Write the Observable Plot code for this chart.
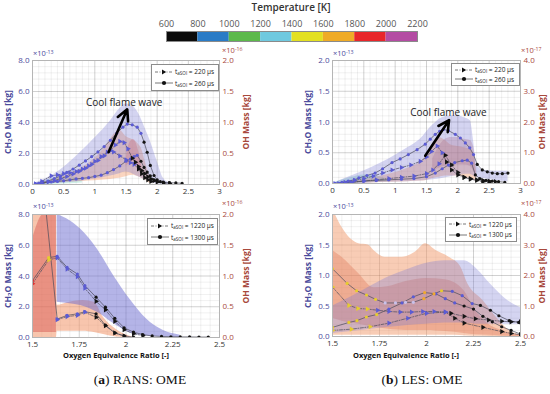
<!DOCTYPE html>
<html><head><meta charset="utf-8">
<script src="https://cdn.jsdelivr.net/npm/d3@7"></script>
<script src="https://cdn.jsdelivr.net/npm/@observablehq/plot@0.6"></script>
<style>
html,body{margin:0;padding:0;background:#fff;}
#root{position:relative;width:550px;height:394px;overflow:hidden;background:#fff;}
sub{font-size:70%;vertical-align:-0.25em;line-height:0}
sup{font-size:70%;vertical-align:0.45em;line-height:0}
</style></head>
<body><div id="root"></div>
<script>
// ---------------- colour bar ----------------
const tempEdges = [800,1000,1200,1400,1600,1800,2000];
const cbTicks = [600,800,1000,1200,1400,1600,1800,2000,2200];
const cbPalette = ["#0b0b0b","#2a7bc6","#5cb94b","#6fc9df","#e3e021","#efab27","#e8262a","#b44ca3"];
const markerPalette = ["#141414","#5b5bd3","#66bb55","#c9c1ea","#e6cc2e","#f0a82e","#e03030","#b050a0"];

// ---------------- tick labels ----------------
const xTicksTop = [0,0.5,1,1.5,2,2.5,3];
const xTicksBottom = [1.5,1.75,2,2.25,2.5];
const yTicksRANS = [0,2,4,6,8];          // CH2O x1e-13
const rTicksRANS = [0,0.5,1,1.5,2];      // OH x1e-16
const yTicksLES = [0,0.5,1,1.5,2];       // CH2O x1e-13
const rTicksLES = [0,1,2,3,4];           // OH x1e-17

// ============ Panel A : RANS, t = 220 / 260 us ============
const A_CH2O_260_x = [0.05,0.15,0.25,0.35,0.45,0.55,0.65,0.75,0.85,0.95,1.05,1.15,1.25,1.35,1.45,1.52,1.6,1.68,1.74,1.79,1.84,1.89,1.95,2.0,2.05,2.1,2.2,2.3,2.4];
const A_CH2O_260_y = [0.02,0.1,0.22,0.38,0.55,0.78,1.0,1.25,1.52,1.8,2.1,2.45,2.85,3.3,3.7,3.9,3.85,3.7,3.3,2.73,2.08,1.23,0.58,0.3,0.18,0.15,0.12,0.1,0.08];
const A_CH2O_260_T = [900,900,900,900,900,900,900,900,900,900,900,900,900,900,900,900,900,900,900,700,700,700,700,700,700,700,700,700,700];
const A_CH2O_220_x = [0.05,0.15,0.25,0.35,0.45,0.55,0.65,0.75,0.85,0.95,1.05,1.15,1.25,1.33,1.4,1.47,1.53,1.6,1.65,1.7,1.75,1.8,1.85,1.9,1.95,2.0,2.1,2.2];
const A_CH2O_220_y = [0.02,0.06,0.15,0.25,0.38,0.52,0.68,0.85,1.05,1.3,1.55,1.85,2.2,2.55,2.78,2.7,2.3,1.7,1.44,1.15,0.9,0.7,0.5,0.35,0.25,0.15,0.1,0.06];
const A_CH2O_220_T = [900,900,900,900,900,900,900,900,900,900,900,900,900,900,900,900,900,700,700,700,700,700,700,700,700,700,700,700];
const A_OH_220_x = [0.05,0.15,0.3,0.4,0.5,0.6,0.7,0.8,0.9,1.0,1.1,1.2,1.25,1.3,1.4,1.5,1.57,1.63,1.7,1.75,1.8,1.85,1.9];
const A_OH_220_y = [0.01,0.05,0.14,0.155,0.175,0.19,0.21,0.25,0.3,0.375,0.45,0.525,0.55,0.525,0.46,0.4,0.35,0.325,0.25,0.175,0.11,0.075,0.05];
const A_OH_220_T = [900,900,900,900,900,900,900,900,900,900,900,900,900,900,900,900,900,900,700,700,700,700,700];
const A_OH_260_x = [0.1,0.3,0.4,0.5,0.6,0.7,0.8,0.9,1.0,1.1,1.2,1.3,1.4,1.5,1.57,1.63,1.68,1.74,1.79,1.84,1.89,1.95,2.0,2.1];
const A_OH_260_y = [0.02,0.04,0.05,0.06,0.075,0.09,0.1,0.11,0.13,0.15,0.19,0.24,0.3,0.375,0.41,0.45,0.47,0.375,0.275,0.2,0.14,0.075,0.05,0.025];
const A_OH_260_T = [900,900,900,900,900,900,900,900,900,900,900,900,900,900,900,900,900,700,700,700,700,700,700,700];
const A_CH2Oband_x = [0,0.25,0.5,0.75,1.0,1.25,1.4,1.5,1.6,1.7,1.8,1.9,2.0,2.1,2.2];
const A_CH2Oband_lo = [0,0.05,0.1,0.2,0.35,0.55,0.7,0.8,0.7,0.5,0.3,0.15,0.05,0.02,0];
const A_CH2Oband_hi = [0.05,0.45,1.1,2.0,3.0,4.1,4.9,5.2,5.1,4.6,3.7,2.7,1.5,0.4,0.1];
const A_OHband_x = [0.2,0.4,0.6,0.8,1.0,1.2,1.3,1.4,1.5,1.6,1.7,1.75,1.8,1.85,1.9];
const A_OHband_lo = [0.0125,0.025,0.04,0.05,0.06,0.075,0.09,0.1,0.125,0.15,0.125,0.1,0.075,0.04,0.0125];
const A_OHband_hi = [0.05,0.1,0.175,0.275,0.425,0.65,0.8,0.875,0.775,0.725,0.65,0.575,0.4,0.225,0.075];
const A_OHband2_x = [1.5,1.55,1.62,1.7,1.75];
const A_OHband2_lo = [0.3,0.325,0.375,0.25,0.2];
const A_OHband2_hi = [0.375,0.65,0.725,0.55,0.3];
const A_coolband_x = [0.05,0.2,0.4,0.6,0.8];
const A_coolband_lo = [0,0,0.02,0.05,0.1];
const A_coolband_hi = [0.05,0.25,0.45,0.5,0.3];

// ============ Panel B : LES, t = 220 / 260 us ============
const B_CH2O_260_x = [0.04,0.15,0.25,0.35,0.42,0.55,0.68,0.8,0.95,1.08,1.21,1.35,1.48,1.56,1.64,1.71,1.77,1.85,1.96,2.04,2.12,2.19,2.25,2.31,2.39,2.47,2.55,2.63,2.71,2.8];
const B_CH2O_260_y = [0.0,0.02,0.04,0.06,0.09,0.13,0.17,0.24,0.34,0.4,0.47,0.55,0.64,0.72,0.8,0.85,0.88,0.86,0.8,0.74,0.66,0.58,0.47,0.31,0.22,0.19,0.17,0.16,0.16,0.17];
const B_CH2O_260_T = [900,900,900,900,900,900,900,900,900,900,900,900,900,900,900,900,900,900,900,900,900,900,900,700,700,700,700,700,700,700];
const B_CH2O_220_x = [0.04,0.2,0.35,0.5,0.65,0.8,0.95,1.1,1.25,1.4,1.5,1.58,1.67,1.75,1.82,1.9,2.0,2.1,2.2,2.3,2.4,2.5,2.6];
const B_CH2O_220_y = [0.0,0.02,0.05,0.08,0.12,0.17,0.22,0.26,0.3,0.36,0.43,0.52,0.61,0.5,0.35,0.22,0.14,0.1,0.08,0.06,0.05,0.04,0.03];
const B_CH2O_220_T = [900,900,900,900,900,900,900,900,900,900,900,900,900,900,700,700,700,700,700,700,700,700,700];
const B_OH_260_x = [0.1,0.3,0.5,0.7,0.9,1.1,1.3,1.5,1.64,1.75,1.85,1.95,2.07,2.15,2.22,2.28,2.35,2.45,2.55,2.65,2.75];
const B_OH_260_y = [0,0.04,0.08,0.1,0.12,0.14,0.16,0.22,0.34,0.48,0.6,0.68,0.74,0.76,0.66,0.28,0.16,0.1,0.08,0.06,0.04];
const B_OH_260_T = [900,900,900,900,900,900,900,900,900,900,900,900,900,900,900,700,700,700,700,700,700];
const B_OH_220_x = [0.1,0.3,0.5,0.7,0.9,1.1,1.3,1.5,1.6,1.7,1.8,1.9,2.0,2.1,2.2,2.3,2.4,2.5];
const B_OH_220_y = [0,0.04,0.08,0.12,0.16,0.2,0.24,0.32,0.44,0.64,0.92,0.6,0.36,0.2,0.14,0.1,0.06,0.04];
const B_OH_220_T = [900,900,900,900,900,900,900,900,900,900,700,700,700,700,700,700,700,700];
const B_CH2Oband_x = [0,0.3,0.6,0.9,1.2,1.4,1.6,1.75,1.95,2.1,2.2,2.25,2.3,2.4,2.6,2.8];
const B_CH2Oband_lo = [0,0,0.01,0.02,0.03,0.04,0.06,0.08,0.12,0.15,0.15,0.12,0.1,0.08,0.05,0.03];
const B_CH2Oband_hi = [0.0,0.12,0.25,0.4,0.58,0.72,0.95,1.07,1.1,1.07,1.02,0.7,0.3,0.22,0.2,0.2];
const B_OHband_x = [0.3,0.6,0.9,1.2,1.4,1.5,1.6,1.7,1.8,1.9,2.0,2.1,2.2,2.27,2.3];
const B_OHband_lo = [0,0.02,0.04,0.06,0.08,0.1,0.16,0.2,0.24,0.24,0.24,0.2,0.16,0.1,0.04];
const B_OHband_hi = [0.06,0.16,0.3,0.5,0.7,0.9,1.3,1.5,1.4,1.24,1.2,1.16,1.1,0.8,0.2];
const B_OHband2_x = [1.6,1.7,1.8,1.9,2.0,2.1,2.2,2.25,2.3];
const B_OHband2_lo = [0.4,0.5,0.56,0.6,0.6,0.6,0.56,0.4,0.2];
const B_OHband2_hi = [0.8,1.2,1.44,1.5,1.5,1.44,1.4,1.2,0.4];
const B_coolband_x = [0.05,0.3,0.5,0.7,0.9];
const B_coolband_lo = [0,0,0.01,0.02,0.03];
const B_coolband_hi = [0.02,0.1,0.14,0.12,0.06];

// ============ Panel C : RANS, t = 1220 / 1300 us ============
const C_CH2O_1300_x = [1.5,1.587,1.632,1.685,1.74,1.78,1.84,1.89,1.94,1.99,2.04,2.09,2.14,2.19,2.24,2.29,2.34,2.39,2.44];
const C_CH2O_1300_y = [3.7,5.2,5.28,4.56,4.13,3.38,2.62,1.97,1.25,0.63,0.35,0.19,0.1,0.07,0.05,0.04,0.04,0.03,0.03];
const C_CH2O_1300_T = [1900,1500,900,900,900,900,700,700,700,700,700,700,700,700,700,700,700,700,700];
const C_CH2O_1220_x = [1.5,1.587,1.632,1.685,1.74,1.78,1.84,1.89,1.94,1.99,2.04,2.09];
const C_CH2O_1220_y = [3.5,5.05,5.18,4.45,3.95,3.2,2.35,1.8,1.05,0.5,0.25,0.12];
const C_CH2O_1220_T = [1900,1500,900,900,900,900,700,700,700,700,700,700];
const C_OH_1300_x = [1.5,1.632,1.685,1.74,1.78,1.84,1.89,1.94,1.99,2.04];
const C_OH_1300_y = [4.18,0.3,0.36,0.385,0.42,0.385,0.2,0.075,0.025,0.005];
const C_OH_1300_T = [1900,900,900,900,900,700,700,700,700,700];
const C_OH_1220_x = [1.632,1.685,1.74,1.78,1.84,1.89,1.94,1.99];
const C_OH_1220_y = [0.29,0.34,0.36,0.41,0.33,0.19,0.075,0.025];
const C_OH_1220_T = [900,900,900,900,700,700,700,700];
const C_CH2Oband_x = [1.632,1.7,1.757,1.846,1.935,2.02,2.11,2.2,2.29];
const C_CH2Oband_lo = [2.3,2.2,2.08,1.64,0.89,0.3,0.1,0.03,0];
const C_CH2Oband_hi = [8.0,7.6,7.06,5.76,4.0,2.5,1.2,0.45,0.15];
const C_OHband_x = [1.5,1.628,1.632,1.7,1.77,1.83,1.88,1.95,2.04];
const C_OHband_lo = [0,0,0.1,0.1,0.1,0.08,0.05,0.01,0];
const C_OHband_hi = [2.25,2.25,0.525,0.575,0.6,0.575,0.325,0.125,0];
const C_OHband2_x = [1.5,1.56,1.628];
const C_OHband2_lo = [0.08,0.08,0.08];
const C_OHband2_hi = [1.6,2.0,2.0];

// ============ Panel D : LES, t = 1220 / 1300 us ============
const D_CH2O_1300_x = [1.5,1.578,1.628,1.681,1.729,1.78,1.835,1.888,1.93,1.986,2.04,2.08,2.137,2.19,2.243,2.287,2.34,2.385,2.44,2.49];
const D_CH2O_1300_y = [1.11,0.87,0.75,0.68,0.61,0.55,0.55,0.56,0.56,0.62,0.7,0.75,0.74,0.67,0.54,0.51,0.43,0.34,0.26,0.23];
const D_CH2O_1300_T = [1500,1500,1500,1500,1500,1300,1300,1300,1300,1700,1700,1500,900,900,900,700,700,700,700,700];
const D_CH2O_1220_x = [1.5,1.587,1.635,1.685,1.74,1.8,1.86,1.92,1.98,2.04,2.1,2.13,2.2,2.26,2.33,2.4,2.45,2.5];
const D_CH2O_1220_y = [0.81,0.51,0.46,0.45,0.43,0.41,0.4,0.4,0.41,0.41,0.4,0.38,0.33,0.29,0.27,0.25,0.24,0.24];
const D_CH2O_1220_T = [1500,1500,1500,1500,900,900,900,900,900,900,900,700,700,700,700,700,700,700];
const D_OH_1300_x = [1.5,1.587,1.63,1.68,1.735,1.8,1.87,1.93,1.99,2.05,2.1,2.15,2.2,2.25,2.3,2.35,2.4,2.45,2.5];
const D_OH_1300_y = [0.3,0.46,0.52,0.64,0.72,0.9,1.1,1.3,1.44,1.4,1.24,1.1,1.0,0.9,0.66,0.48,0.32,0.2,0.08];
const D_OH_1300_T = [1500,1500,1500,1500,1500,900,900,900,1700,900,900,900,700,700,700,700,700,700,700];
const D_OH_1220_x = [1.5,1.6,1.7,1.8,1.9,2.0,2.1,2.15,2.2,2.3,2.4,2.45,2.5];
const D_OH_1220_y = [0.2,0.24,0.32,0.44,0.6,0.76,0.8,0.6,0.44,0.3,0.16,0.1,0.06];
const D_OH_1220_T = [1500,1500,1500,900,900,900,900,700,700,700,700,700,700];
const D_CH2Oband_x = [1.5,1.6,1.7,1.8,1.9,2.0,2.1,2.2,2.27,2.34,2.42,2.5];
const D_CH2Oband_lo = [0.05,0.08,0.12,0.15,0.18,0.2,0.22,0.22,0.2,0.2,0.2,0.2];
const D_CH2Oband_hi = [0.5,0.65,0.82,0.98,1.1,1.2,1.24,1.24,1.1,0.86,0.62,0.47];
const D_OHband_x = [1.5,1.55,1.64,1.69,1.72,1.78,1.87,1.94,1.995,2.05,2.12,2.18,2.22,2.3,2.37,2.44,2.5];
const D_OHband_lo = [0.04,0.04,0.04,0.04,0.04,0.04,0.04,0.04,0.04,0.04,0.04,0.03,0.02,0.01,0,0,0];
const D_OHband_hi = [4.2,3.58,3.04,3.0,2.82,2.6,2.6,2.76,3.04,2.82,2.6,2.3,1.72,1.18,0.64,0.2,0.04];
const D_OHband2_x = [1.5,1.55,1.64,1.72,1.8,1.89,2.0,2.1,2.2,2.26,2.33,2.4,2.5];
const D_OHband2_lo = [0.6,0.5,0.4,0.3,0.24,0.2,0.2,0.16,0.1,0.06,0.04,0.02,0];
const D_OHband2_hi = [2.82,2.6,2.06,1.6,1.64,1.8,1.9,1.86,1.5,0.86,0.4,0.2,0.06];

// annotations
const coolText = "Cool flame wave";
const A_arrow = [{x1:1.22, y1:2.08, x2:1.52, y2:4.85}];
const A_note = [{x:1.47, y:5.3}];
const B_arrow = [{x1:1.48, y1:0.45, x2:1.86, y2:1.03}];
const B_note = [{x:1.85, y:1.15}];

// ---------------- helpers ----------------
const FONT = "'Open Sans', 'DejaVu Sans', sans-serif";
const root = document.getElementById("root");
const BLUE = "#4b4b9c", RED = "#a8493c";
const pts = (xs, ys, ts, f = 1) => xs.map((x, i) => ({x, y: ys[i] * f, t: ts[i]}));
const band = (xs, lo, hi, f = 1) => xs.map((x, i) => ({x, lo: lo[i] * f, hi: hi[i] * f}));

function put(node, x, y) {
  node.style.position = "absolute"; node.style.left = x + "px"; node.style.top = y + "px";
  root.appendChild(node); return node;
}
function txt(html, x, y, css = "") {
  const d = document.createElement("div");
  d.innerHTML = html;
  d.style.cssText = `position:absolute;left:${x}px;top:${y}px;white-space:nowrap;font-family:${FONT};line-height:1;` + css;
  root.appendChild(d); return d;
}

function panel(c) {
  const f = c.f;
  const marks = [
    Plot.gridX(c.xMinor, {stroke: "#000", strokeOpacity: 0.06}),
    Plot.gridY(c.yMinor, {stroke: "#000", strokeOpacity: 0.06}),
    Plot.gridX(c.xTicks, {stroke: "#000", strokeOpacity: 0.13}),
    Plot.gridY(c.yTicks, {stroke: "#000", strokeOpacity: 0.13}),
  ];
  for (const b of c.bands) {
    marks.push(Plot.areaY(b.data, {x: "x", y1: "lo", y2: "hi", fill: b.fill, fillOpacity: b.op, curve: "monotone-x", clip: true}));
  }
  for (const s of c.series) {
    marks.push(Plot.line(s.data, {x: "x", y: "y", stroke: "#4a4a5a", strokeWidth: 0.7, strokeDasharray: s.dashed ? "3,1.5,1,1.5" : null, clip: true}));
  }
  for (const s of c.series) {
    marks.push(Plot.dot(s.data, s.dashed
      ? {x: "x", y: "y", fill: "t", symbol: "triangle", r: 1.9, rotate: 90, clip: true}
      : {x: "x", y: "y", fill: "t", symbol: "circle", r: 1.6, clip: true}));
  }
  if (c.arrow) {
    marks.push(Plot.arrow(c.arrow, {x1: "x1", y1: "y1", x2: "x2", y2: "y2", stroke: "#000", strokeWidth: 2.6, headLength: 7, headAngle: 55}));
    marks.push(Plot.text(c.note, {x: "x", y: "y", text: () => coolText, fontSize: 10, fill: "#222"}));
  }
  marks.push(
    Plot.frame({stroke: "#b5b5b5"}),
    Plot.axisX({ticks: c.xTicks, tickFormat: d => `${d}`, tickSize: 0, tickPadding: 4, label: null, color: "#333", fontSize: 8}),
    Plot.axisY({ticks: c.yTicks, tickFormat: d3.format(".1f"), tickSize: 0, tickPadding: 3, label: null, color: BLUE, fontSize: 8}),
    Plot.axisY({anchor: "right", ticks: c.rTicks.map(v => v * f), tickFormat: d => d3.format(".1f")(d / f), tickSize: 0, tickPadding: 3, label: null, color: RED, fontSize: 8})
  );
  const svg = Plot.plot({
    width: c.w, height: c.h,
    marginLeft: c.ml, marginRight: c.mr, marginTop: c.mt, marginBottom: c.mb,
    style: {fontFamily: FONT, fontSize: "8px", background: "none", overflow: "visible"},
    x: {domain: c.xDomain},
    y: {domain: [0, c.yMax]},
    color: {type: "threshold", domain: tempEdges, range: markerPalette},
    marks
  });
  put(svg, c.left, c.top);
}

// ---------------- colour bar ----------------
const cbRows = cbTicks.slice(0, -1).map((lo, i) => ({lo, hi: cbTicks[i + 1], mid: lo + 100}));
const cb = Plot.plot({
  width: 271, height: 32, marginLeft: 10, marginRight: 10, marginTop: 19, marginBottom: 3,
  style: {fontFamily: FONT, fontSize: "9px", background: "none", overflow: "visible"},
  x: {domain: [600, 2200]}, y: {domain: [0, 1], axis: null},
  color: {type: "threshold", domain: tempEdges, range: cbPalette},
  marks: [
    Plot.rect(cbRows, {x1: "lo", x2: "hi", y1: 0, y2: 1, fill: "mid"}),
    Plot.frame({stroke: "#8a8a8a"}),
    Plot.axisX({anchor: "top", ticks: cbTicks, tickFormat: d => `${d}`, tickSize: 0, tickPadding: 5, label: null, color: "#555", fontSize: 9})
  ]
});
put(cb, 156, 12);
txt("Temperature [K]", 291, 7, "transform:translate(-50%,-50%);font-size:10px;font-weight:600;color:#333;");

// ---------------- panels ----------------
const topMinorX = d3.range(0, 3.0001, 0.1);
const botMinorX = d3.range(1.5, 2.5001, 0.05);
panel({
  left: 0, top: 45, w: 275, h: 160, ml: 32, mr: 56, mt: 15, mb: 21, f: 4,
  xDomain: [0, 3], xTicks: xTicksTop, xMinor: topMinorX,
  yMax: 8, yTicks: yTicksRANS, yMinor: d3.range(0, 8.001, 0.4), rTicks: rTicksRANS,
  bands: [
    {data: band(A_coolband_x, A_coolband_lo, A_coolband_hi), fill: "#7fd3c0", op: 0.35},
    {data: band(A_OHband_x, A_OHband_lo, A_OHband_hi, 4), fill: "#f39a6a", op: 0.42},
    {data: band(A_OHband2_x, A_OHband2_lo, A_OHband2_hi, 4), fill: "#ee8070", op: 0.45},
    {data: band(A_CH2Oband_x, A_CH2Oband_lo, A_CH2Oband_hi), fill: "#7a7ad4", op: 0.32}
  ],
  series: [
    {data: pts(A_OH_260_x, A_OH_260_y, A_OH_260_T, 4), dashed: false},
    {data: pts(A_OH_220_x, A_OH_220_y, A_OH_220_T, 4), dashed: true},
    {data: pts(A_CH2O_220_x, A_CH2O_220_y, A_CH2O_220_T), dashed: true},
    {data: pts(A_CH2O_260_x, A_CH2O_260_y, A_CH2O_260_T), dashed: false}
  ],
  arrow: A_arrow, note: A_note
});
panel({
  left: 275, top: 45, w: 275, h: 160, ml: 57, mr: 30, mt: 15, mb: 22, f: 0.5,
  xDomain: [0, 3], xTicks: xTicksTop, xMinor: topMinorX,
  yMax: 2, yTicks: yTicksLES, yMinor: d3.range(0, 2.001, 0.1), rTicks: rTicksLES,
  bands: [
    {data: band(B_coolband_x, B_coolband_lo, B_coolband_hi), fill: "#7fd3c0", op: 0.4},
    {data: band(B_OHband_x, B_OHband_lo, B_OHband_hi, 0.5), fill: "#f39a6a", op: 0.42},
    {data: band(B_OHband2_x, B_OHband2_lo, B_OHband2_hi, 0.5), fill: "#b86a70", op: 0.3},
    {data: band(B_CH2Oband_x, B_CH2Oband_lo, B_CH2Oband_hi), fill: "#7a7ad4", op: 0.32}
  ],
  series: [
    {data: pts(B_OH_260_x, B_OH_260_y, B_OH_260_T, 0.5), dashed: false},
    {data: pts(B_OH_220_x, B_OH_220_y, B_OH_220_T, 0.5), dashed: true},
    {data: pts(B_CH2O_220_x, B_CH2O_220_y, B_CH2O_220_T), dashed: true},
    {data: pts(B_CH2O_260_x, B_CH2O_260_y, B_CH2O_260_T), dashed: false}
  ],
  arrow: B_arrow, note: B_note
});
panel({
  left: 0, top: 195, w: 275, h: 165, ml: 32, mr: 56, mt: 19, mb: 23, f: 4,
  xDomain: [1.5, 2.5], xTicks: xTicksBottom, xMinor: botMinorX,
  yMax: 8, yTicks: yTicksRANS, yMinor: d3.range(0, 8.001, 0.4), rTicks: rTicksRANS,
  bands: [
    {data: band(C_OHband_x, C_OHband_lo, C_OHband_hi, 4), fill: "#f3966a", op: 0.55},
    {data: band(C_OHband2_x, C_OHband2_lo, C_OHband2_hi, 4), fill: "#d44a48", op: 0.42},
    {data: band(C_CH2Oband_x, C_CH2Oband_lo, C_CH2Oband_hi), fill: "#6a6ad0", op: 0.5}
  ],
  series: [
    {data: pts(C_OH_1300_x, C_OH_1300_y, C_OH_1300_T, 4), dashed: false},
    {data: pts(C_OH_1220_x, C_OH_1220_y, C_OH_1220_T, 4), dashed: true},
    {data: pts(C_CH2O_1220_x, C_CH2O_1220_y, C_CH2O_1220_T), dashed: true},
    {data: pts(C_CH2O_1300_x, C_CH2O_1300_y, C_CH2O_1300_T), dashed: false}
  ]
});
panel({
  left: 275, top: 195, w: 275, h: 165, ml: 57, mr: 30, mt: 19, mb: 24, f: 0.5,
  xDomain: [1.5, 2.5], xTicks: xTicksBottom, xMinor: botMinorX,
  yMax: 2, yTicks: yTicksLES, yMinor: d3.range(0, 2.001, 0.1), rTicks: rTicksLES,
  bands: [
    {data: band(D_OHband_x, D_OHband_lo, D_OHband_hi, 0.5), fill: "#f29a6c", op: 0.5},
    {data: band(D_OHband2_x, D_OHband2_lo, D_OHband2_hi, 0.5), fill: "#e0785a", op: 0.38},
    {data: band(D_CH2Oband_x, D_CH2Oband_lo, D_CH2Oband_hi), fill: "#7a7ad4", op: 0.32}
  ],
  series: [
    {data: pts(D_OH_1220_x, D_OH_1220_y, D_OH_1220_T, 0.5), dashed: true},
    {data: pts(D_OH_1300_x, D_OH_1300_y, D_OH_1300_T, 0.5), dashed: false},
    {data: pts(D_CH2O_1220_x, D_CH2O_1220_y, D_CH2O_1220_T), dashed: true},
    {data: pts(D_CH2O_1300_x, D_CH2O_1300_y, D_CH2O_1300_T), dashed: false}
  ]
});

// ---------------- axis titles, exponents ----------------
const ch2oLab = "CH<sub>2</sub>O Mass [kg]", ohLab = "OH Mass [kg]";
const rot = "transform:translate(-50%,-50%) rotate(-90deg);font-size:8.5px;font-weight:700;";
[[8,122],[8,276],[308,122],[308,276]].forEach(([x,y]) => txt(ch2oLab, x, y, rot + `color:${BLUE};`));
[[246,122],[246,276],[542,122],[542,276]].forEach(([x,y]) => txt(ohLab, x, y, rot + `color:${RED};`));
const expCss = c => `font-size:7.5px;color:${c};`;
txt("×10<sup>-13</sup>", 33, 50, expCss(BLUE));
txt("×10<sup>-16</sup>", 222, 47, expCss(RED));
txt("×10<sup>-13</sup>", 333, 50, expCss(BLUE));
txt("×10<sup>-17</sup>", 521, 47, expCss(RED));
txt("×10<sup>-13</sup>", 33, 203, expCss(BLUE));
txt("×10<sup>-16</sup>", 222, 200, expCss(RED));
txt("×10<sup>-13</sup>", 333, 203, expCss(BLUE));
txt("×10<sup>-17</sup>", 521, 200, expCss(RED));
const xLab = "Oxygen Equivalence Ratio [-]";
txt(xLab, 116, 356, "transform:translate(-50%,-50%);font-size:7.5px;font-weight:700;color:#111;");
txt(xLab, 406, 356, "transform:translate(-50%,-50%);font-size:7.5px;font-weight:700;color:#111;");

// ---------------- legends ----------------
function legend(x, y, w, h, times) {
  const d = document.createElement("div");
  d.style.cssText = `position:absolute;left:${x}px;top:${y}px;width:${w}px;height:${h}px;border:1px solid #8c8c8c;background:#fff;box-sizing:border-box;font-family:${FONT};font-size:6.5px;color:#222;padding:1px 0 0 2px;`;
  times.forEach((t, i) => {
    const row = document.createElement("div");
    row.style.cssText = `display:flex;align-items:center;height:${(h - 4) / 2}px;`;
    const sw = i === 0
      ? `<svg width="20" height="8"><line x1="1" y1="4" x2="19" y2="4" stroke="#555" stroke-width="0.8" stroke-dasharray="3,1.5,1,1.5"/><path d="M8,1.6L12.2,4L8,6.4Z" fill="#111"/></svg>`
      : `<svg width="20" height="8"><line x1="1" y1="4" x2="19" y2="4" stroke="#555" stroke-width="0.8"/><circle cx="10" cy="4" r="2.1" fill="#111"/></svg>`;
    row.innerHTML = sw + `<span style="margin-left:1px">t<sub>aSOI</sub> = ${t} µs</span>`;
    d.appendChild(row);
  });
  root.appendChild(d);
}
const legendEarly = ["220", "260"], legendLate = ["1220", "1300"];
legend(151, 64, 68, 27, legendEarly);
legend(451, 63, 69, 23, legendEarly);
legend(147, 218, 71, 27, legendLate);
legend(445, 217, 72, 25, legendLate);

// ---------------- captions ----------------
const capCss = "transform:translate(-50%,0);font-family:'Liberation Serif','DejaVu Serif',serif;font-size:13.5px;color:#111;";
txt("(<b>a</b>) RANS: OME", 140, 373, capCss);
txt("(<b>b</b>) LES: OME", 422, 373, capCss);
</script></body></html>
